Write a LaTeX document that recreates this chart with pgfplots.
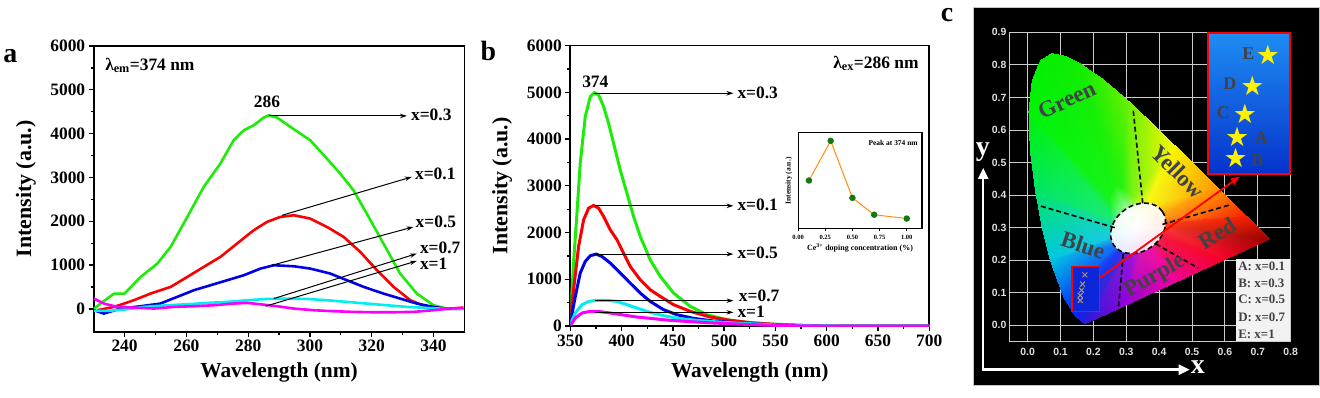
\documentclass[border=0pt]{standalone}
\usepackage{pgfplots}
\pgfplotsset{compat=1.18}
\usetikzlibrary{arrows.meta}
\usepackage{fontspec}
\setmainfont{Liberation Serif}
\newfontfamily\dejavu{DejaVu Sans}
\newfontfamily\lsans{Liberation Sans}
\newcommand{\fs}[1]{\fontsize{#1}{#1}\selectfont\bfseries}
\definecolor{cgreen}{RGB}{30,235,10}
\definecolor{cred}{RGB}{250,0,0}
\definecolor{cblue}{RGB}{0,0,230}
\definecolor{ccyan}{RGB}{0,238,240}
\definecolor{cmag}{RGB}{250,0,250}
\definecolor{corange}{RGB}{255,140,20}
\definecolor{cdot}{RGB}{20,120,20}
\definecolor{ctext}{RGB}{65,65,70}
\tikzset{ann/.style={line width=1bp, -{Stealth[length=7bp,width=4.5bp]}}}
\pgfplotsset{
  spec/.style={scale only axis, anchor=south west, clip mode=individual,
    axis line style={line width=1.6bp},
    tick style={line width=1.3bp, black},
    major tick length=5bp, minor tick length=3bp,
    tick align=outside, tick pos=left,
    tick label style={font=\fs{17.5}},
    /pgf/number format/assume math mode=true,
    /pgf/number format/1000 sep={},
    scaled ticks=false, no markers,
  },
}
\begin{document}
\begin{tikzpicture}[x=1bp,y=1bp]
\path (0,0) rectangle (1320,398);
% panel letters
\node[font=\fs{28}] at (9.5,342) {a};
\node[font=\fs{28}] at (488,347) {b};
\node[font=\fs{28}] at (947,383) {c};
% ---------------- panel a
\begin{axis}[spec, at={(93bp,66bp)}, width=371bp, height=286bp,
  xmin=230, xmax=350, ymin=-520, ymax=6000,
  xtick={240,260,280,300,320,340}, ytick={0,1000,2000,3000,4000,5000,6000},
  minor x tick num=1, minor y tick num=1,
  xlabel={Wavelength (nm)}, ylabel={Intensity (a.u.)},
  every axis x label/.style={at={(axis description cs:0.5,-0.143)}, anchor=center, font=\fs{21.5}},
  every axis y label/.style={at={(axis description cs:-0.183,0.5)}, rotate=90, anchor=center, font=\fs{22}},
  every axis plot/.append style={line width=2.6bp},
]
\addplot[cgreen] coordinates {(230,0)(232.2,122)(236.6,350)(240,350)(245.2,730)(250.6,1034)(254.9,1414)(260.3,2099)(265.6,2783)(271,3316)(275.3,3848)(278.6,4076)(281.8,4190)(285,4365)(286.7,4418)(289.4,4365)(293.7,4152)(300.1,3848)(305,3468)(309.8,3088)(314.1,2707)(318.4,2175)(323.8,1491)(329.2,806)(334.6,350)(340,84)(344.3,8)(349.7,0)};
\addplot[cred] coordinates {(231.2,-30)(236.6,46)(243,198)(248.4,350)(254.9,502)(260.3,730)(265.6,958)(271,1186)(276.4,1491)(281.8,1795)(286.1,1985)(290.4,2099)(294.8,2137)(300.1,2061)(305.5,1871)(310.9,1643)(316.3,1300)(321.7,882)(327.1,502)(332.5,198)(337.8,46)(344.3,0)(349.7,30)};
\addplot[cblue] coordinates {(230.1,-30)(233.3,-106)(238.7,8)(245.2,61)(251.6,122)(257,274)(262.4,426)(267.8,540)(273.2,654)(278.6,768)(284,920)(288.3,996)(294.8,973)(300.1,920)(306.6,806)(312,654)(317.4,502)(323.8,350)(329.2,236)(334.6,122)(340,46)(344.3,0)(349.7,0)};
\addplot[ccyan] coordinates {(230.1,-46)(234.4,-46)(239.8,-15)(246.3,46)(253.8,84)(260.3,106)(266.7,137)(273.2,160)(279.7,198)(286.1,228)(292.6,236)(299,228)(305.5,198)(312,160)(318.4,122)(324.9,84)(331.4,46)(337.8,23)(344.3,0)(349.7,8)};
\addplot[cmag] coordinates {(230,236)(233.3,122)(237.6,46)(243,30)(249.5,8)(256,46)(262.4,61)(268.9,84)(275.3,122)(279.7,137)(284,106)(289.4,61)(294.8,8)(301.2,-30)(307.7,-53)(314.1,-68)(320.6,-76)(327.1,-76)(333.5,-68)(340,-30)(345.3,8)(349.7,23)};
\node[anchor=west, font=\fs{17.5}] at (axis cs:232.6,5560) {λ\textsubscript{em}=374 nm};
\node[font=\fs{17.5}] at (axis cs:286.1,4723) {286};
\draw[ann] (axis cs:286.7,4403) -- (axis cs:331.4,4403);
\node[anchor=west, font=\fs{17.5}] at (axis cs:331.6,4430) {x=0.3};
\draw[ann] (axis cs:291,2137) -- (axis cs:333,3012);
\node[anchor=west, font=\fs{17.5}] at (axis cs:332.9,3072) {x=0.1};
\draw[ann] (axis cs:287.7,996) -- (axis cs:333.5,1871);
\node[anchor=west, font=\fs{17.5}] at (axis cs:333.1,1985) {x=0.5};
\draw[ann] (axis cs:288.3,236) -- (axis cs:334.6,1262);
\node[anchor=west, font=\fs{17.5}] at (axis cs:334.5,1400) {x=0.7};
\draw[ann] (axis cs:285.6,61) -- (axis cs:334.6,1095);
\node[anchor=west, font=\fs{17.5}] at (axis cs:334.5,1040) {x=1};
\end{axis}
% ---------------- panel b
\begin{axis}[spec, at={(570bp,71.7bp)}, width=359.3bp, height=280.6bp,
  xmin=350, xmax=700, ymin=0, ymax=6000,
  xtick={350,400,450,500,550,600,650,700}, ytick={0,1000,2000,3000,4000,5000,6000},
  minor x tick num=1, minor y tick num=1,
  xlabel={Wavelength (nm)}, ylabel={Intensity (a.u.)},
  every axis x label/.style={at={(axis description cs:0.5,-0.167)}, anchor=center, font=\fs{21.5}},
  every axis y label/.style={at={(axis description cs:-0.19,0.5)}, rotate=90, anchor=center, font=\fs{22}},
  every axis plot/.append style={line width=3bp},
]
\addplot[cgreen] coordinates {(350,64)(353.2,1347)(356.5,2416)(359.7,3485)(364.6,4482)(369.5,4910)(373.4,4995)(377.6,4945)(382.5,4696)(387.3,4340)(392.2,3912)(398.7,3342)(405.2,2843)(411.7,2344)(418.2,1917)(427.9,1418)(437.7,1062)(450.7,705)(466.9,420)(483.1,242)(502.6,135)(522.1,78)(544.8,43)(577.3,14)(609.8,0)(700,0)};
\addplot[cred] coordinates {(350,135)(353.2,777)(358.1,1703)(363,2273)(367.9,2523)(372.7,2580)(377.6,2523)(382.5,2344)(389,2059)(395.5,1846)(401.9,1561)(408.4,1276)(418.2,990)(427.9,777)(437.7,634)(450.7,456)(466.9,314)(486.4,192)(505.9,121)(528.6,64)(561,21)(593.5,0)(700,0)};
\addplot[cblue] coordinates {(350,64)(354.9,634)(359.7,1133)(364.6,1382)(369.5,1504)(375.3,1539)(380.8,1489)(389,1347)(398.7,1133)(408.4,919)(418.2,705)(427.9,527)(440.9,349)(453.9,242)(470.1,164)(489.6,107)(512.4,71)(538.3,36)(564.3,14)(593.5,0)(700,0)};
\addplot[ccyan] coordinates {(350,28)(354.9,278)(361.4,456)(367.9,527)(376,549)(385.7,549)(395.5,527)(405.2,456)(414.9,385)(427.9,292)(440.9,221)(457.2,157)(476.6,114)(499.4,78)(525.3,50)(551.3,21)(577.3,7)(609.8,0)(700,0)};
\addplot[cmag] coordinates {(350,7)(354.9,171)(361.4,278)(369.5,314)(379.2,306)(389,278)(402,235)(414.9,192)(431.2,157)(447.4,121)(466.9,93)(489.6,64)(512.4,43)(538.3,21)(564.3,7)(593.5,0)(700,0)};
\node[anchor=east, font=\fs{17.5}] at (axis cs:693,5622) {λ\textsubscript{ex}=286 nm};
\node[font=\fs{17.5}] at (axis cs:374.4,5231) {374};
\draw[ann] (axis cs:372.7,4981) -- (axis cs:509.1,4981);
\node[anchor=west, font=\fs{17.5}] at (axis cs:509.6,4995) {x=0.3};
\draw[ann] (axis cs:374.4,2572) -- (axis cs:509.1,2572);
\node[anchor=west, font=\fs{17.5}] at (axis cs:509.6,2594) {x=0.1};
\draw[ann] (axis cs:375.3,1539) -- (axis cs:509.1,1539);
\node[anchor=west, font=\fs{17.5}] at (axis cs:509.6,1575) {x=0.5};
\draw[ann] (axis cs:374.4,542) -- (axis cs:509.1,542);
\node[anchor=west, font=\fs{17.5}] at (axis cs:511,656) {x=0.7};
\draw[ann] (axis cs:374.4,292) -- (axis cs:509.1,292);
\node[anchor=west, font=\fs{17.5}] at (axis cs:509.6,306) {x=1};
\end{axis}
% ---------------- inset
\begin{axis}[scale only axis, anchor=south west, at={(798bp,169bp)}, width=124bp, height=96bp,
  xmin=0, xmax=1.14, ymin=-320, ymax=5480,
  xtick={0,0.25,0.5,0.75,1}, xticklabels={0.00,0.25,0.50,0.75,1.00}, ytick=\empty,
  axis line style={line width=1.1bp}, tick align=outside, tick pos=left,
  major tick length=2.5bp, tick style={line width=0.8bp,black},
  tick label style={font=\fs{6.5}},
  axis background/.style={fill=white},
  xlabel={Ce\textsuperscript{3+} doping concentration (\%)}, ylabel={Intensity (a.u.)},
  every axis x label/.style={at={(axis description cs:0.5,-0.2)},anchor=center,font=\fs{8}},
  every axis y label/.style={at={(axis description cs:-0.075,0.5)},rotate=90,anchor=center,font=\fs{7.5}},
]
\addplot[color=corange, line width=1bp, mark=*, mark size=2.7bp, mark options={fill=cdot, draw=cdot}] coordinates {(0.1,2600)(0.3,5000)(0.5,1550)(0.7,530)(1.0,300)};
\node[anchor=east, font=\fs{7.5}, inner sep=1bp] at (rel axis cs:0.975,0.896) {Peak at 374 nm};
\end{axis}
% ---------------- panel c
\fill[black] (973,12) rectangle (1320,391);
\draw[gray!45, line width=0.8bp] (973,12) rectangle (1320,391);
\begin{axis}[scale only axis, anchor=south west, at={(1010bp,55.7bp)}, width=281bp, height=310bp,
  xmin=-0.054, xmax=0.8, ymin=-0.051, ymax=0.9,
  xtick={0,0.1,0.2,0.3,0.4,0.5,0.6,0.7,0.8}, xticklabels={0.0,0.1,0.2,0.3,0.4,0.5,0.6,0.7,0.8},
  ytick={0,0.1,0.2,0.3,0.4,0.5,0.6,0.7,0.8,0.9}, yticklabels={0.0,0.1,0.2,0.3,0.4,0.5,0.6,0.7,0.8,0.9},
  grid=major, major grid style={white!80!black, line width=0.9bp},
  axis line style={white!80!black, line width=1bp},
  major tick length=0pt,
  tick label style={font=\lsans\fs{10.5}, text=white!88!black},
  xticklabel style={yshift=-2.5bp},
  clip mode=individual,
]
\addplot[patch, shader=interp, mesh/color input=explicit, point meta=explicit symbolic] table[meta=c] {
x y c
0.33 0.30 rgb=1,1,1
0.291 0.226 rgb=0.235,0.19,0.865
0.2835 0.2325 rgb=0.118,0.235,0.955
0.291 0.226 rgb=0.235,0.19,0.865
0.2835 0.2325 rgb=0.118,0.235,0.955
0.144 0.030 rgb=0.02,0.15,0.95
0.291 0.226 rgb=0.235,0.19,0.865
0.144 0.030 rgb=0.02,0.15,0.95
0.174 0.005 rgb=0.15,0.1,0.85
0.33 0.30 rgb=1,1,1
0.2835 0.2325 rgb=0.118,0.235,0.955
0.275 0.247 rgb=0.1,0.415,0.955
0.2835 0.2325 rgb=0.118,0.235,0.955
0.275 0.247 rgb=0.1,0.415,0.955
0.110 0.087 rgb=0,0.35,0.95
0.2835 0.2325 rgb=0.118,0.235,0.955
0.110 0.087 rgb=0,0.35,0.95
0.144 0.030 rgb=0.02,0.15,0.95
0.33 0.30 rgb=1,1,1
0.275 0.247 rgb=0.1,0.415,0.955
0.265 0.275 rgb=0.1,0.8,0.88
0.275 0.247 rgb=0.1,0.415,0.955
0.265 0.275 rgb=0.1,0.8,0.88
0.069 0.201 rgb=0,0.78,0.88
0.275 0.247 rgb=0.1,0.415,0.955
0.069 0.201 rgb=0,0.78,0.88
0.110 0.087 rgb=0,0.35,0.95
0.33 0.30 rgb=1,1,1
0.265 0.275 rgb=0.1,0.8,0.88
0.2535 0.328 rgb=0.1,0.92,0.46
0.265 0.275 rgb=0.1,0.8,0.88
0.2535 0.328 rgb=0.1,0.92,0.46
0.024 0.413 rgb=0,0.9,0.4
0.265 0.275 rgb=0.1,0.8,0.88
0.024 0.413 rgb=0,0.9,0.4
0.069 0.201 rgb=0,0.78,0.88
0.33 0.30 rgb=1,1,1
0.2535 0.328 rgb=0.1,0.92,0.46
0.2485 0.389 rgb=0.08,0.96,0.1
0.2535 0.328 rgb=0.1,0.92,0.46
0.2485 0.389 rgb=0.08,0.96,0.1
0.004 0.655 rgb=0,0.95,0.03
0.2535 0.328 rgb=0.1,0.92,0.46
0.004 0.655 rgb=0,0.95,0.03
0.024 0.413 rgb=0,0.9,0.4
0.33 0.30 rgb=1,1,1
0.2485 0.389 rgb=0.08,0.96,0.1
0.266 0.4335 rgb=0.1,0.95,0.06
0.2485 0.389 rgb=0.08,0.96,0.1
0.266 0.4335 rgb=0.1,0.95,0.06
0.074 0.834 rgb=0.03,0.93,0
0.2485 0.389 rgb=0.08,0.96,0.1
0.074 0.834 rgb=0.03,0.93,0
0.004 0.655 rgb=0,0.95,0.03
0.33 0.30 rgb=1,1,1
0.266 0.4335 rgb=0.1,0.95,0.06
0.286 0.4265 rgb=0.14,0.95,0.06
0.266 0.4335 rgb=0.1,0.95,0.06
0.286 0.4265 rgb=0.14,0.95,0.06
0.155 0.806 rgb=0.06,0.93,0
0.266 0.4335 rgb=0.1,0.95,0.06
0.155 0.806 rgb=0.06,0.93,0
0.074 0.834 rgb=0.03,0.93,0
0.33 0.30 rgb=1,1,1
0.286 0.4265 rgb=0.14,0.95,0.06
0.323 0.398 rgb=0.5,0.95,0.08
0.286 0.4265 rgb=0.14,0.95,0.06
0.323 0.398 rgb=0.5,0.95,0.08
0.302 0.692 rgb=0.4,0.94,0
0.286 0.4265 rgb=0.14,0.95,0.06
0.302 0.692 rgb=0.4,0.94,0
0.155 0.806 rgb=0.06,0.93,0
0.33 0.30 rgb=1,1,1
0.323 0.398 rgb=0.5,0.95,0.08
0.3585 0.364 rgb=0.97,0.97,0.1
0.323 0.398 rgb=0.5,0.95,0.08
0.3585 0.364 rgb=0.97,0.97,0.1
0.444 0.555 rgb=0.97,0.97,0
0.323 0.398 rgb=0.5,0.95,0.08
0.444 0.555 rgb=0.97,0.97,0
0.302 0.692 rgb=0.4,0.94,0
0.33 0.30 rgb=1,1,1
0.3585 0.364 rgb=0.97,0.97,0.1
0.391 0.331 rgb=1,0.64,0.1
0.3585 0.364 rgb=0.97,0.97,0.1
0.391 0.331 rgb=1,0.64,0.1
0.575 0.424 rgb=1,0.6,0
0.3585 0.364 rgb=0.97,0.97,0.1
0.575 0.424 rgb=1,0.6,0
0.444 0.555 rgb=0.97,0.97,0
0.33 0.30 rgb=1,1,1
0.391 0.331 rgb=1,0.64,0.1
0.414 0.3085 rgb=0.97,0.235,0.1
0.391 0.331 rgb=1,0.64,0.1
0.414 0.3085 rgb=0.97,0.235,0.1
0.666 0.334 rgb=0.97,0.12,0
0.391 0.331 rgb=1,0.64,0.1
0.666 0.334 rgb=0.97,0.12,0
0.575 0.424 rgb=1,0.6,0
0.33 0.30 rgb=1,1,1
0.414 0.3085 rgb=0.97,0.235,0.1
0.431 0.291 rgb=0.95,0.2,0.2
0.414 0.3085 rgb=0.97,0.235,0.1
0.431 0.291 rgb=0.95,0.2,0.2
0.735 0.265 rgb=0.6,0,0
0.414 0.3085 rgb=0.97,0.235,0.1
0.735 0.265 rgb=0.6,0,0
0.666 0.334 rgb=0.97,0.12,0
0.33 0.30 rgb=1,1,1
0.431 0.291 rgb=0.95,0.2,0.2
0.3975 0.276 rgb=0.97,0.1,0.235
0.431 0.291 rgb=0.95,0.2,0.2
0.3975 0.276 rgb=0.97,0.1,0.235
0.600 0.203 rgb=0.97,0,0.15
0.431 0.291 rgb=0.95,0.2,0.2
0.600 0.203 rgb=0.97,0,0.15
0.735 0.265 rgb=0.6,0,0
0.33 0.30 rgb=1,1,1
0.3975 0.276 rgb=0.97,0.1,0.235
0.36 0.258 rgb=0.93,0.1,0.64
0.3975 0.276 rgb=0.97,0.1,0.235
0.36 0.258 rgb=0.93,0.1,0.64
0.450 0.133 rgb=0.93,0,0.62
0.3975 0.276 rgb=0.97,0.1,0.235
0.450 0.133 rgb=0.93,0,0.62
0.600 0.203 rgb=0.97,0,0.15
0.33 0.30 rgb=1,1,1
0.36 0.258 rgb=0.93,0.1,0.64
0.3225 0.241 rgb=0.6,0.1,0.85
0.36 0.258 rgb=0.93,0.1,0.64
0.3225 0.241 rgb=0.6,0.1,0.85
0.300 0.063 rgb=0.58,0,0.85
0.36 0.258 rgb=0.93,0.1,0.64
0.300 0.063 rgb=0.58,0,0.85
0.450 0.133 rgb=0.93,0,0.62
0.33 0.30 rgb=1,1,1
0.3225 0.241 rgb=0.6,0.1,0.85
0.291 0.226 rgb=0.235,0.19,0.865
0.3225 0.241 rgb=0.6,0.1,0.85
0.291 0.226 rgb=0.235,0.19,0.865
0.174 0.005 rgb=0.15,0.1,0.85
0.3225 0.241 rgb=0.6,0.1,0.85
0.174 0.005 rgb=0.15,0.1,0.85
0.300 0.063 rgb=0.58,0,0.85
0.069 0.201 rgb=0,0.78,0.88
0.0454 0.295 rgb=0,0.85,0.7
0.024 0.413 rgb=0,0.9,0.4
0.024 0.413 rgb=0,0.9,0.4
0.0082 0.538 rgb=0,0.93,0.15
0.004 0.655 rgb=0,0.95,0.03
0.004 0.655 rgb=0,0.95,0.03
0.0139 0.750 rgb=0,0.94,0.01
0.0389 0.812 rgb=0.02,0.93,0
0.004 0.655 rgb=0,0.95,0.03
0.0389 0.812 rgb=0.02,0.93,0
0.074 0.834 rgb=0.03,0.93,0
0.074 0.834 rgb=0.03,0.93,0
0.114 0.826 rgb=0.04,0.93,0
0.155 0.806 rgb=0.06,0.93,0
0.155 0.806 rgb=0.06,0.93,0
0.2296 0.7543 rgb=0.2,0.93,0
0.302 0.692 rgb=0.4,0.94,0
0.302 0.692 rgb=0.4,0.94,0
0.3731 0.6245 rgb=0.75,0.95,0
0.444 0.555 rgb=0.97,0.97,0
0.444 0.555 rgb=0.97,0.97,0
0.5125 0.4866 rgb=1,0.8,0
0.575 0.424 rgb=1,0.6,0
};
\fill[white, opacity=0.9, rotate around={35:(axis cs:0.336,0.298)}] (axis cs:0.336,0.298) ellipse [x radius=0.09, y radius=0.07];
\draw[black, line width=1.6bp, dash pattern=on 5bp off 3bp, rotate around={35:(axis cs:0.336,0.298)}] (axis cs:0.336,0.298) ellipse [x radius=0.09, y radius=0.07];
\addplot[black, no marks, line width=1.6bp, dash pattern=on 5bp off 3bp] coordinates {(0.35,0.375)(0.321,0.662)};
\addplot[black, no marks, line width=1.6bp, dash pattern=on 5bp off 3bp] coordinates {(0.265,0.30)(0.027,0.37)};
\addplot[black, no marks, line width=1.6bp, dash pattern=on 5bp off 3bp] coordinates {(0.41,0.31)(0.615,0.37)};
\addplot[black, no marks, line width=1.6bp, dash pattern=on 5bp off 3bp] coordinates {(0.39,0.25)(0.519,0.176)};
\addplot[black, no marks, line width=1.6bp, dash pattern=on 5bp off 3bp] coordinates {(0.291,0.22)(0.276,0.053)};
\node[rotate=25, text=ctext, font=\fs{23}] at (axis cs:0.119,0.692) {Green};
\node[rotate=-45, text=ctext, font=\fs{23}] at (axis cs:0.458,0.472) {Yellow};
\node[rotate=-18, text=ctext, font=\fs{23}] at (axis cs:0.169,0.247) {Blue};
\node[rotate=32, text=ctext, font=\fs{23}] at (axis cs:0.576,0.283) {Red};
\node[rotate=30, text=ctext, font=\fs{23}] at (axis cs:0.387,0.150) {Purple};
\filldraw[fill={rgb,1:red,0.05;green,0.15;blue,0.85}, draw=red, line width=1.6bp] (axis cs:0.134,0.043) rectangle (axis cs:0.218,0.181);
\addplot[only marks, mark=x, mark size=3.5bp, mark options={line width=1bp}, color={rgb,1:red,0.65;green,0.6;blue,0.45}] coordinates {(0.174,0.155)(0.167,0.127)(0.164,0.108)(0.160,0.092)(0.160,0.077)};
\draw[red, line width=1.8bp, -{Triangle[length=9bp,width=7bp]}] (axis cs:0.218,0.145) -- (axis cs:0.645,0.457);
\shade[top color={rgb,1:red,0.12;green,0.55;blue,0.95}, bottom color={rgb,1:red,0.02;green,0.2;blue,0.8}] (axis cs:0.549,0.465) rectangle (axis cs:0.797,0.897);
\draw[red, line width=1.8bp] (axis cs:0.549,0.465) rectangle (axis cs:0.797,0.897);
\addplot[only marks, mark=text, text mark={★}, text mark as node=true, text mark style={font=\dejavu\fontsize{27}{27}\selectfont, text=yellow, inner sep=0pt}, color=yellow] coordinates {(0.731,0.830)(0.684,0.735)(0.661,0.651)(0.637,0.578)(0.633,0.513)};
\node[text=ctext, font=\fs{18}] at (axis cs:0.671,0.835) {E};
\node[text=ctext, font=\fs{18}] at (axis cs:0.615,0.743) {D};
\node[text=ctext, font=\fs{18}] at (axis cs:0.595,0.653) {C};
\node[text=ctext, font=\fs{18}] at (axis cs:0.711,0.578) {A};
\node[text=ctext, font=\fs{18}] at (axis cs:0.699,0.506) {B};
\fill[white!95!black] (axis cs:0.633,-0.049) rectangle (axis cs:0.797,0.203);
\node[anchor=west, text=ctext, font=\fs{13}, inner sep=1bp] at (axis cs:0.637,0.181) {A: x=0.1};
\node[anchor=west, text=ctext, font=\fs{13}, inner sep=1bp] at (axis cs:0.637,0.130) {B: x=0.3};
\node[anchor=west, text=ctext, font=\fs{13}, inner sep=1bp] at (axis cs:0.637,0.079) {C: x=0.5};
\node[anchor=west, text=ctext, font=\fs{13}, inner sep=1bp] at (axis cs:0.637,0.025) {D: x=0.7};
\node[anchor=west, text=ctext, font=\fs{13}, inner sep=1bp] at (axis cs:0.637,-0.027) {E: x=1};
\end{axis}
\draw[white, line width=2.5bp, -{Triangle[length=11bp,width=10bp]}] (983.3,27) -- (983.3,230);
\draw[white, line width=2.5bp, -{Triangle[length=11bp,width=10bp]}] (982,28) -- (1190,28);
\node[white, font=\fs{28}] at (983,246) {y};
\node[white, font=\fs{28}] at (1198,31) {x};
\end{tikzpicture}
\end{document}
